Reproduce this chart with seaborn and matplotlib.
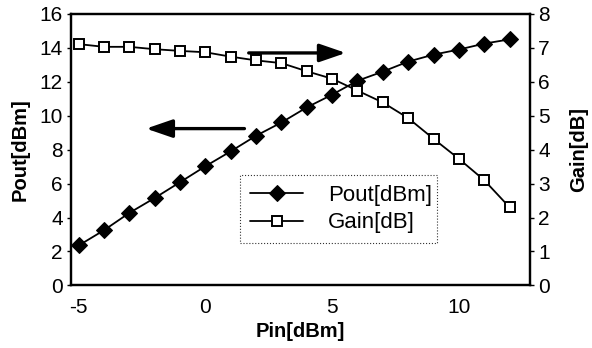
import matplotlib
matplotlib.use("Agg")
import matplotlib.pyplot as plt
import seaborn as sns
import pandas as pd

pin = [-5, -4, -3, -2, -1, 0, 1, 2, 3, 4, 5, 6, 7, 8, 9, 10, 11, 12]
pout = [2.35, 3.25, 4.27, 5.15, 6.08, 7.02, 7.9, 8.82, 9.6, 10.49,
        11.24, 12.06, 12.6, 13.19, 13.6, 13.9, 14.25, 14.5]
gain = [7.11, 7.03, 7.03, 6.96, 6.91, 6.87, 6.74, 6.63, 6.55, 6.31,
        6.09, 5.74, 5.39, 4.93, 4.32, 3.73, 3.1, 2.3]

df = pd.DataFrame({"Pin": pin, "Pout": pout, "Gain": gain})

sns.set_style("white")
plt.rcParams["font.family"] = ["Liberation Sans", "DejaVu Sans"]
plt.rcParams["axes.unicode_minus"] = False
plt.rcParams["text.color"] = "black"
plt.rcParams["axes.labelcolor"] = "black"

fig, ax = plt.subplots(figsize=(5.92, 3.48), dpi=100)
ax2 = ax.twinx()

sns.lineplot(data=df, x="Pin", y="Pout", ax=ax, color="black", lw=1.3,
             marker="D", markersize=8.5, markerfacecolor="black",
             markeredgecolor="black", label="Pout[dBm]", legend=False)
sns.lineplot(data=df, x="Pin", y="Gain", ax=ax2, color="black", lw=1.3,
             marker="s", markersize=7.5, markerfacecolor="white",
             markeredgecolor="black", markeredgewidth=1.4,
             label="Gain[dB]", legend=False)

ax.set_xlim(-5.3, 12.8)
ax.set_ylim(0, 16)
ax2.set_ylim(0, 8)
ax.set_xticks([-5, 0, 5, 10])
ax.set_yticks(range(0, 17, 2))
ax2.set_yticks(range(0, 9))

for a in (ax, ax2):
    a.tick_params(direction="out", length=3, width=1, labelsize=15, colors="black", pad=3)
    for s in a.spines.values():
        s.set_linewidth(1.6)
        s.set_color("black")
ax.tick_params(axis="x", pad=6)

ax.set_xlabel("Pin[dBm]", fontsize=14.5, fontweight="bold", labelpad=4)
ax.set_ylabel("Pout[dBm]", fontsize=14.5, fontweight="bold", labelpad=7)
ax2.set_ylabel("Gain[dB]", fontsize=14.5, fontweight="bold", labelpad=14)

# direction arrows
arrow = dict(arrowstyle="-|>,head_length=1.6,head_width=0.55", color="black", lw=2.4)
ax.annotate("", xy=(-2.45, 9.24), xytext=(1.65, 9.24), arrowprops=arrow)
ax.annotate("", xy=(5.65, 13.7), xytext=(1.6, 13.7), arrowprops=arrow)

h1, l1 = ax.get_legend_handles_labels()
h2, l2 = ax2.get_legend_handles_labels()
leg = ax2.legend(h1 + h2, l1 + l2, loc="upper left", bbox_to_anchor=(0.368, 0.0, 0.43, 0.408),
                 mode="expand", borderaxespad=0, fontsize=16, frameon=True, fancybox=False,
                 handlelength=2.4, handletextpad=1.1, borderpad=0.45, labelspacing=0.3)
leg.get_frame().set_edgecolor("black")
leg.get_frame().set_linestyle(":")
leg.get_frame().set_linewidth(0.8)

fig.subplots_adjust(left=0.12, right=0.895, top=0.96, bottom=0.18)
fig.savefig("out.png", dpi=100)
